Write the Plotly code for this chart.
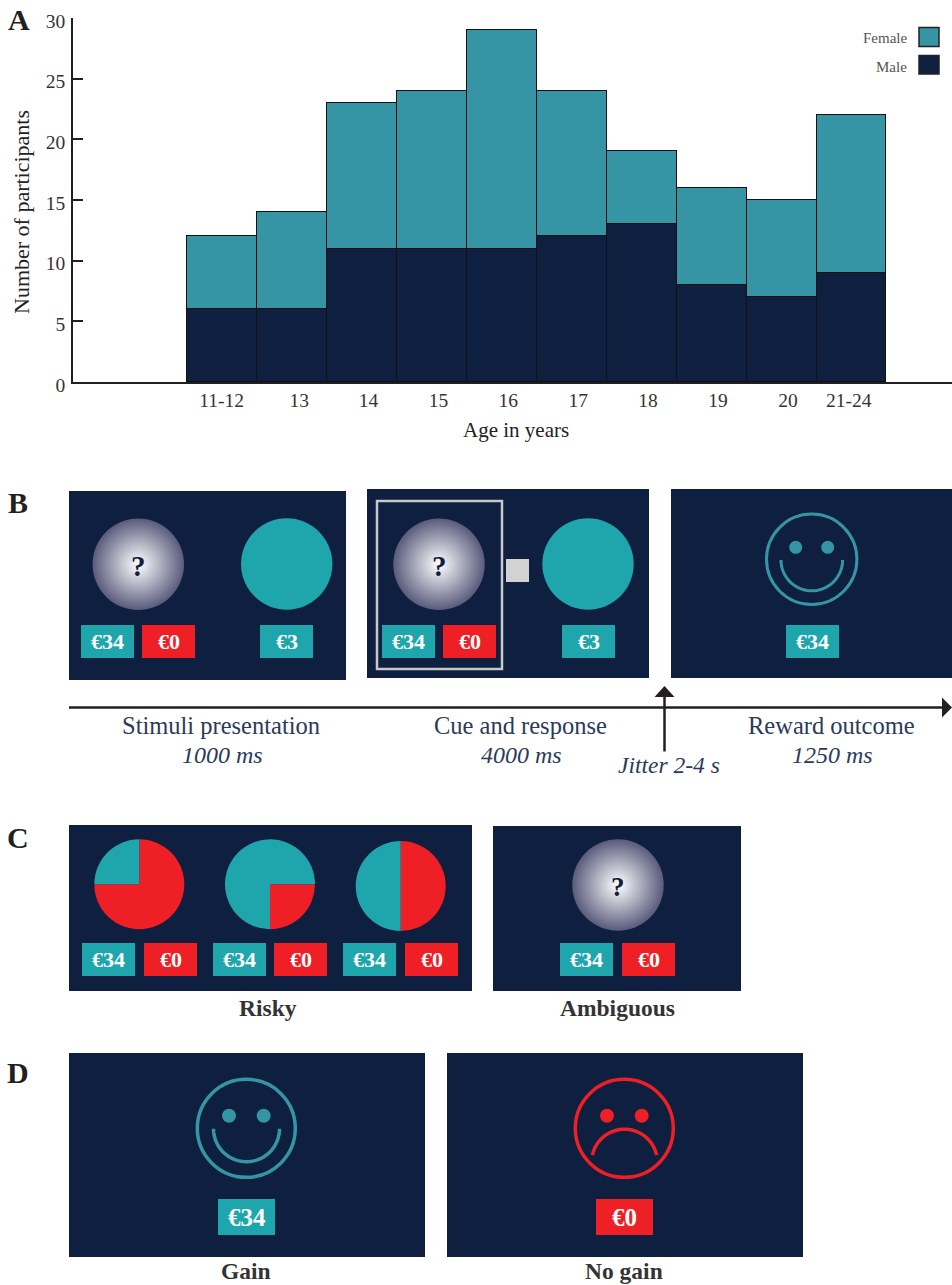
import numpy as np
import plotly.graph_objects as go

# ---------- data ----------
age_labels = ["11-12", "13", "14", "15", "16", "17", "18", "19", "20", "21-24"]
male_counts = [6, 6, 11, 11, 11, 12, 13, 8, 7, 9]
female_counts = [6, 8, 12, 13, 18, 12, 6, 8, 8, 13]
y_ticks = [0, 5, 10, 15, 20, 25, 30]
risky_pies = [
    {"values": [3, 1], "colors": ["red", "teal"], "rotation": 0},
    {"values": [1, 3], "colors": ["red", "teal"], "rotation": 90},
    {"values": [1, 1], "colors": ["red", "teal"], "rotation": 0},
]

# ---------- styles ----------
W, H = 952, 1285
NAVY = "#0e1f40"
BAR_TEAL = "#3695a5"
TEAL = "#1fa5ac"
RED = "#ef1f26"
INK = "#231f20"
BLUE_TXT = "#2b3a5b"
SERIF2 = "Liberation Serif"
PAL = {"red": RED, "teal": TEAL}

bar_x = list(range(len(age_labels)))
tick_x = [-0.01, 1.1, 2.09, 3.09, 4.09, 5.09, 6.09, 7.09, 8.09, 8.96]
x0_px, unit = 222.4, 69.9
x_range = [(73 - x0_px) / unit, (952 - x0_px) / unit]

fig = go.Figure()
fig.add_bar(x=bar_x, y=male_counts, name="Male", width=1, showlegend=False,
            marker=dict(color=NAVY, line=dict(color="#111111", width=1.4)), hoverinfo="skip")
fig.add_bar(x=bar_x, y=female_counts, name="Female", width=1, showlegend=False,
            marker=dict(color=BAR_TEAL, line=dict(color="#111111", width=1.4)), hoverinfo="skip")

shapes, annots = [], []

def rect(x0, y0, x1, y1, fill, line=None, lw=0):
    shapes.append(dict(type="rect", xref="x2", yref="y2", x0=x0, y0=y0, x1=x1, y1=y1,
                       fillcolor=fill, line=dict(color=line or fill, width=lw), layer="below"))

def circle(cx, cy, r, fill=None, line=None, lw=0):
    shapes.append(dict(type="circle", xref="x2", yref="y2", x0=cx - r, y0=cy - r, x1=cx + r, y1=cy + r,
                       fillcolor=fill or "rgba(0,0,0,0)", line=dict(color=line or "rgba(0,0,0,0)", width=lw),
                       layer="below"))

def text(x, y, s, size, color=BLUE_TXT, family=SERIF2, anchor="center", angle=0):
    annots.append(dict(xref="x2", yref="y2", x=x, y=y, text=s, showarrow=False, xanchor=anchor,
                       yanchor="middle", textangle=angle, font=dict(size=size, color=color, family=family)))

def chip(x0, y0, x1, y1, s, fill, size=22):
    rect(x0, y0, x1, y1, fill)
    text((x0 + x1) / 2, (y0 + y1) / 2, "<b>" + s + "</b>", size, "white")

def arc(cx, cy, r, a0, a1, color, lw):
    t = np.radians(np.linspace(a0, a1, 50))
    xs, ys = cx + r * np.cos(t), cy + r * np.sin(t)
    p = "M " + " L ".join(f"{a:.2f},{b:.2f}" for a, b in zip(xs, ys))
    shapes.append(dict(type="path", xref="x2", yref="y2", path=p, layer="below",
                       line=dict(color=color, width=lw)))

def tri(pts, color=INK):
    p = "M " + " L ".join(f"{a},{b}" for a, b in pts) + " Z"
    shapes.append(dict(type="path", xref="x2", yref="y2", path=p, fillcolor=color,
                       line=dict(color=color, width=0), layer="below"))

def seg(x0, y0, x1, y1, color=INK, lw=2.5):
    shapes.append(dict(type="line", xref="x2", yref="y2", x0=x0, y0=y0, x1=x1, y1=y1,
                       line=dict(color=color, width=lw), layer="below"))

# panel letters
for s, x, y in [("A", 18.5, 19), ("B", 18, 502), ("C", 18, 837), ("D", 18, 1072)]:
    text(x, y, "<b>" + s + "</b>", 30, "#231f20")

# chart titles placed off the axis centre, as in the reference
text(21, 212, "Number of participants", 22, "#222222", angle=-90)
text(516, 430, "Age in years", 21, "#222222")

# legend
text(909, 38, "Female", 15, "#555555", anchor="right")
text(909, 66.5, "Male", 15, "#555555", anchor="right")
rect(919, 27.5, 939, 46.5, BAR_TEAL, "#222222", 1.5)
rect(919, 55.5, 939, 74, NAVY, "#222222", 1.5)

# panel B
rect(69, 491, 346, 680, NAVY)
rect(367, 489, 649, 678, NAVY)
rect(671, 489, 952, 678, NAVY)
rect(377, 501, 502, 669, NAVY, "#c8c8c8", 2.5)
rect(506, 559, 529, 582, "#d2d2d2")
circle(286.7, 564, 45.7, TEAL)
circle(588, 564, 45.7, TEAL)
chip(81, 625, 134, 658, "€34", TEAL)
chip(142, 625, 195, 658, "€0", RED)
chip(260, 625, 313, 658, "€3", TEAL)
chip(382, 625, 435, 658, "€34", TEAL)
chip(443, 625, 496, 658, "€0", RED)
chip(562, 625, 615, 658, "€3", TEAL)
chip(786, 625, 839, 658, "€34", TEAL)
circle(811.7, 559.3, 45.2, None, BAR_TEAL, 3)
circle(795.7, 547.3, 6.5, BAR_TEAL)
circle(827.7, 547.3, 6.5, BAR_TEAL)
arc(811.8, 560, 30.8, 0, 180, BAR_TEAL, 3)

# timeline
seg(69, 707.5, 945, 707.5)
tri([(952, 707.5), (942, 697.5), (942, 717.5)])
seg(664.5, 751.5, 664.5, 692)
tri([(664.5, 686), (654.5, 697), (674.5, 697)])
for x, a, b in [(221, "Stimuli presentation", "1000 ms"), (520, "Cue and response", "4000 ms"),
                (831, "Reward outcome", "1250 ms")]:
    text(x, 725, a, 24.5)
    text(x + 1, 755, "<i>" + b + "</i>", 24)
text(669, 765, "<i>Jitter 2-4 s</i>", 23.5)

# panel C
rect(69, 825, 472, 991, NAVY)
rect(493, 826, 741, 991, NAVY)
pie_centres = [(139.3, 884.3), (270.0, 884.3), (400.7, 886.0)]
R = 45.0
for spec, (cx, cy) in zip(risky_pies, pie_centres):
    fig.add_pie(values=spec["values"], sort=False, direction="clockwise", rotation=spec["rotation"],
                marker=dict(colors=[PAL[c] for c in spec["colors"]], line=dict(width=0)),
                textinfo="none", hoverinfo="skip", showlegend=False,
                domain=dict(x=[(cx - R) / W, (cx + R) / W], y=[1 - (cy + R) / H, 1 - (cy - R) / H]))
for x in (82, 213, 343):
    chip(x, 943, x + 53, 976, "€34", TEAL)
for x in (144, 274, 405):
    chip(x, 943, x + 53, 976, "€0", RED)
chip(560, 943, 613, 976, "€34", TEAL)
chip(622, 943, 675, 976, "€0", RED)
text(268, 1008, "<b>Risky</b>", 23.5, "#333333")
text(617, 1008, "<b>Ambiguous</b>", 23.5, "#333333")

# ambiguous cue circles
fig.add_scatter(x=[138.3, 439, 618], y=[564.3, 564.3, 885], xaxis="x2", yaxis="y2", mode="markers",
                hoverinfo="skip", showlegend=False,
                marker=dict(size=91.5, color="#5a5b7c", line=dict(width=0),
                            gradient=dict(type="radial", color="#ffffff")))
text(138.5, 566, "<b>?</b>", 29, NAVY)
text(439, 566, "<b>?</b>", 29, NAVY)
text(618, 887, "<b>?</b>", 27, NAVY)

# panel D
rect(69, 1053, 425, 1257, NAVY)
rect(447, 1053, 803, 1257, NAVY)
circle(246.3, 1128.3, 49, None, BAR_TEAL, 3.5)
circle(229, 1115.7, 7, BAR_TEAL)
circle(263.7, 1115.7, 7, BAR_TEAL)
arc(246.5, 1128.7, 33, 0, 180, BAR_TEAL, 3.5)
chip(218, 1199, 275, 1235, "€34", TEAL, 25)
circle(624.3, 1128.3, 49, None, RED, 3.5)
circle(607, 1115.7, 7, RED)
circle(641.7, 1115.7, 7, RED)
arc(624.5, 1162, 32.8, 192, 348, RED, 3.5)
chip(596, 1199, 653, 1235, "€0", RED, 25)
text(246, 1271, "<b>Gain</b>", 23.5, "#333333")
text(624, 1271, "<b>No gain</b>", 23.5, "#333333")

fig.update_layout(
    width=W, height=H, margin=dict(l=0, r=0, t=0, b=0, autoexpand=False), autosize=False,
    paper_bgcolor="white", plot_bgcolor="rgba(0,0,0,0)", barmode="stack", bargap=0,
    font=dict(family=SERIF2, color="#333333"),
    xaxis=dict(domain=[73 / W, 1], range=x_range, tickmode="array", tickvals=tick_x, ticktext=age_labels,
               ticks="", showgrid=False, zeroline=False, showline=True, linecolor=INK, linewidth=1.5,
               tickfont=dict(size=19.5, family=SERIF2, color="#333333")),
    yaxis=dict(domain=[1 - 382 / H, 1 - 18 / H], range=[0, 30], tickmode="array", tickvals=y_ticks,
               ticks="inside", ticklen=10, tickwidth=1.5, tickcolor=INK, showgrid=False, zeroline=False,
               showline=True, linecolor=INK, linewidth=1.5,
               ticklabelstandoff=2, ticklabelshift=3,
               tickfont=dict(size=19.5, family=SERIF2, color="#333333")),
    xaxis2=dict(domain=[0, 1], range=[0, W], anchor="y2", visible=False, fixedrange=True),
    yaxis2=dict(domain=[0, 1], range=[H, 0], anchor="x2", visible=False, fixedrange=True),
    shapes=shapes, annotations=annots,
)
fig.write_html("out.html", post_script="document.body.style.margin='0';", config={"displayModeBar": False})
